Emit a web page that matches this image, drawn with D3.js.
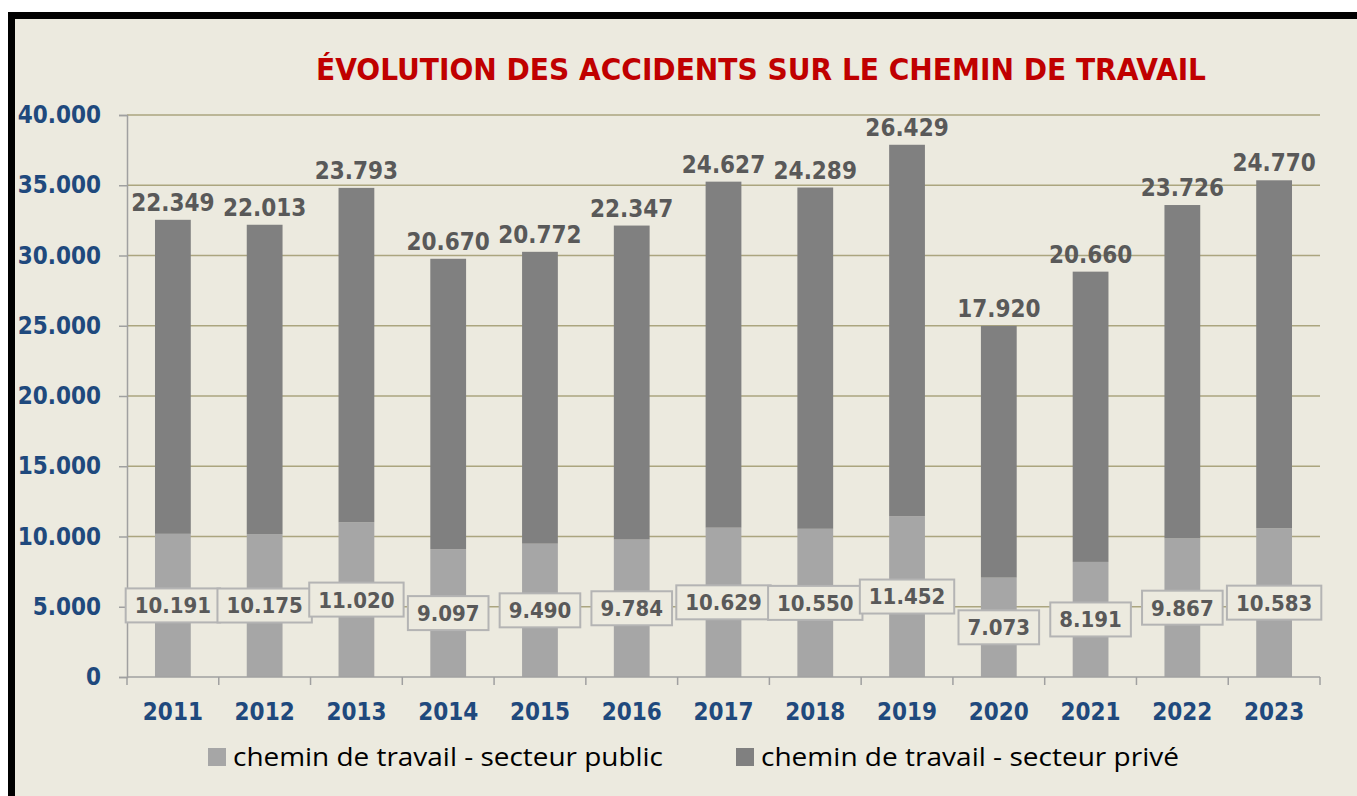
<!DOCTYPE html>
<html>
<head>
<meta charset="utf-8">
<script src="https://cdn.jsdelivr.net/npm/d3@7"></script>
<style>
  body { margin: 0; background: #fff; }
  svg { display: block; }
</style>
</head>
<body>
<div id="chart"></div>
<script>
/* data */
const years = ["2011", "2012", "2013", "2014", "2015", "2016", "2017", "2018", "2019", "2020", "2021", "2022", "2023"];
const publicSector = [10191, 10175, 11020, 9097, 9490, 9784, 10629, 10550, 11452, 7073, 8191, 9867, 10583];
const privateSector = [22349, 22013, 23793, 20670, 20772, 22347, 24627, 24289, 26429, 17920, 20660, 23726, 24770];
const yTicks = [0, 5000, 10000, 15000, 20000, 25000, 30000, 35000, 40000];
const seriesNames = ["chemin de travail - secteur public", "chemin de travail - secteur privé"];

const colorPublic = "#a6a6a6",
      colorPrivate = "#808080";

let width = 1357, height = 796,
    m = {left: 127, right: 37, top: 115, bottom: 119},
    numFont = "DejaVu Sans Condensed, DejaVu Sans";

let fmt = function(v) {
  // French style thousands: 22.349
  return d3.format(",")(v).replace(/,/g, ".");
};

let svg = d3.select("#chart").append("svg")
  .attr("width", width)
  .attr("height", height);

/* frame */
svg.append("rect")
  .attr("x", 11.5).attr("y", 15.5)
  .attr("width", 1400).attr("height", 900)
  .attr("fill", "#eceadf")
  .attr("stroke", "#000")
  .attr("stroke-width", 7);

svg.append("text")
  .attr("x", 761).attr("y", 80)
  .attr("text-anchor", "middle")
  .attr("font-family", numFont)
  .attr("font-weight", "bold")
  .attr("font-size", 30)
  .attr("fill", "#c00000")
  .attr("textLength", 890)
  .attr("lengthAdjust", "spacingAndGlyphs")
  .text("ÉVOLUTION DES ACCIDENTS SUR LE CHEMIN DE TRAVAIL");

let x = d3.scaleBand()
  .domain(years)
  .range([m.left, width - m.right])
  .paddingInner(0.61)
  .paddingOuter(0.305);

let y = d3.scaleLinear()
  .domain([0, 40000])
  .range([height - m.bottom, m.top]);

/* gridlines */
svg.append("g").selectAll("line")
  .data(yTicks.filter(function(d) { return d > 0; }))
  .enter().append("line")
  .attr("x1", m.left).attr("x2", width - m.right)
  .attr("y1", function(d) { return y(d); })
  .attr("y2", function(d) { return y(d); })
  .attr("stroke", "#aba57f")
  .attr("stroke-width", 1.5);

/* y axis */
let yAxis = svg.append("g")
  .attr("transform", "translate(" + m.left + ",0)")
  .call(d3.axisLeft(y).tickValues(yTicks).tickSize(8).tickPadding(18).tickFormat(fmt));
yAxis.select(".domain").attr("stroke", "#a0a0a0").attr("stroke-width", 1.5);
yAxis.selectAll(".tick line").attr("stroke", "#a0a0a0").attr("stroke-width", 1.5);
yAxis.selectAll("text")
  .attr("font-family", numFont)
  .attr("font-weight", "bold")
  .attr("font-size", 24)
  .attr("fill", "#1f497d");

/* stacked bars */
let rows = years.map(function(yr, i) {
  return {year: yr, pub: publicSector[i], priv: privateSector[i]};
});
let stack = d3.stack().keys(["pub", "priv"])(rows);
let colors = [colorPublic, colorPrivate];

svg.append("g").selectAll("g")
  .data(stack)
  .enter().append("g")
  .attr("fill", function(d, i) { return colors[i]; })
  .selectAll("rect")
  .data(function(d) { return d; })
  .enter().append("rect")
  .attr("x", function(d) { return x(d.data.year); })
  .attr("width", x.bandwidth())
  .attr("y", function(d) { return y(d[1]); })
  .attr("height", function(d) { return y(d[0]) - y(d[1]); });

/* x axis */
let x0 = y(0);
svg.append("line")
  .attr("x1", m.left).attr("x2", width - m.right)
  .attr("y1", x0).attr("y2", x0)
  .attr("stroke", "#a0a0a0").attr("stroke-width", 1.5);

let step = x.step();
svg.append("g").selectAll("line")
  .data(d3.range(years.length + 1))
  .enter().append("line")
  .attr("x1", function(i) { return m.left + i * step; })
  .attr("x2", function(i) { return m.left + i * step; })
  .attr("y1", x0).attr("y2", x0 + 8)
  .attr("stroke", "#a0a0a0").attr("stroke-width", 1.5);

svg.append("g").selectAll("text")
  .data(years)
  .enter().append("text")
  .attr("x", function(d) { return x(d) + x.bandwidth() / 2; })
  .attr("y", x0 + 43)
  .attr("text-anchor", "middle")
  .attr("font-family", numFont)
  .attr("font-weight", "bold")
  .attr("font-size", 24)
  .attr("fill", "#1f497d")
  .text(function(d) { return d; });

/* labels on top of the private segment */
svg.append("g").selectAll("text")
  .data(rows)
  .enter().append("text")
  .attr("x", function(d) { return x(d.year) + x.bandwidth() / 2; })
  .attr("y", function(d) { return y(d.pub + d.priv) - 9; })
  .attr("text-anchor", "middle")
  .attr("font-family", numFont)
  .attr("font-weight", "bold")
  .attr("font-size", 24)
  .attr("fill", "#595959")
  .text(function(d) { return fmt(d.priv); });

/* boxed labels in the middle of the public segment */
let boxes = svg.append("g").selectAll("g")
  .data(rows)
  .enter().append("g")
  .attr("transform", function(d) {
    return "translate(" + (x(d.year) + x.bandwidth() / 2) + "," + y(d.pub / 2) + ")";
  });

boxes.append("text")
  .attr("text-anchor", "middle")
  .attr("dy", "0.36em")
  .attr("font-family", numFont)
  .attr("font-weight", "bold")
  .attr("font-size", 22)
  .attr("fill", "#595959")
  .text(function(d) { return fmt(d.pub); });

boxes.each(function() {
  let g = d3.select(this);
  let bb = g.select("text").node().getBBox();
  g.insert("rect", "text")
    .attr("x", bb.x - 9).attr("y", -17)
    .attr("width", bb.width + 18).attr("height", 34)
    .attr("fill", "#eceadf")
    .attr("stroke", "#b4b4b4")
    .attr("stroke-width", 2);
});

/* Legend */
let legendX = [208, 736],
    legendW = [430, 418];
let legendG = svg.selectAll(".legend")
  .data(seriesNames)
  .enter().append("g")
  .attr("class", "legend")
  .attr("transform", function(d, i) { return "translate(" + legendX[i] + ",757)"; });

legendG.append("rect")
  .attr("x", 0).attr("y", -9)
  .attr("width", 18).attr("height", 18)
  .attr("fill", function(d, i) { return colors[i]; });

legendG.append("text")
  .attr("x", 25).attr("dy", "0.35em")
  .attr("font-family", "Open Sans")
  .attr("font-size", 25)
  .attr("fill", "#000")
  .attr("textLength", function(d, i) { return legendW[i]; })
  .attr("lengthAdjust", "spacingAndGlyphs")
  .text(function(d) { return d; });
</script>
</body>
</html>
